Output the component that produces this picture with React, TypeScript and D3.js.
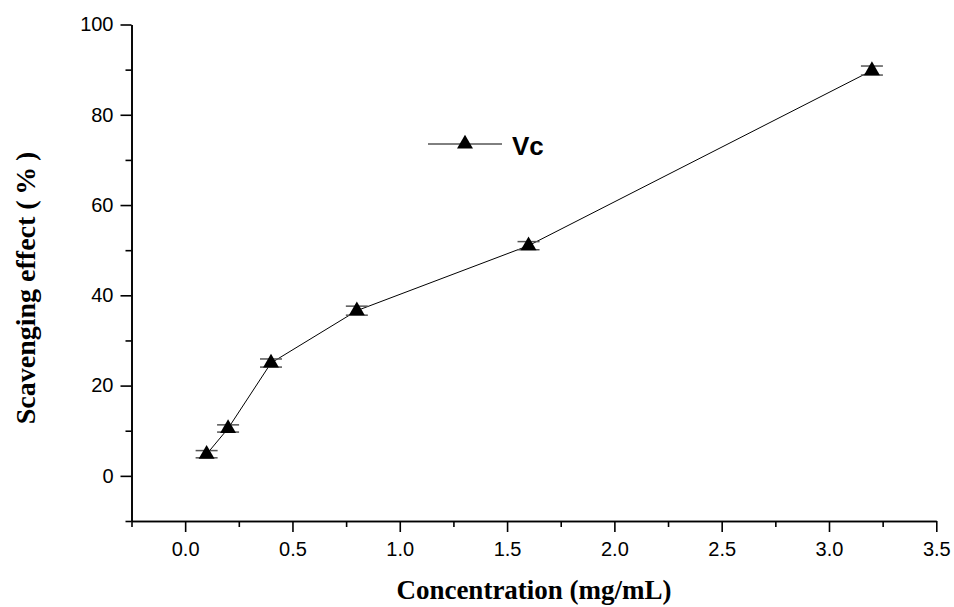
import React, { useEffect, useRef } from "react";
import * as d3 from "d3";

// concentration (mg/mL) and scavenging effect (%)
const concentrations = [0.1, 0.2, 0.4, 0.8, 1.6, 3.2];
const scavenging = [4.8, 10.5, 25.0, 36.6, 51.0, 89.8];
const errors = [0.8, 0.8, 0.9, 1.0, 0.9, 1.0];
const seriesName = "Vc";
const xTicks = [0, 0.5, 1.0, 1.5, 2.0, 2.5, 3.0, 3.5];
const yTicks = [0, 20, 40, 60, 80, 100];

const App = () => {
  const svgRef = useRef<SVGSVGElement>(null);

  useEffect(() => {
    const svg = d3.select(svgRef.current);
    svg.selectAll("*").remove();

    const x = d3.scaleLinear().domain([-0.25, 3.5]).range([131.5, 936.3]);
    const y = d3.scaleLinear().domain([-10, 100]).range([521, 24.5]);

    const g = svg.append("g");

    // minor ticks
    const xMinor = d3.range(-0.25, 3.5, 0.5);
    const yMinor = d3.range(-10, 100, 20);

    const xAxis = g.append("g").attr("transform", `translate(0,${y(-10)})`);
    xAxis.call(
      d3.axisBottom(x).tickValues(xMinor).tickSize(6).tickFormat(() => "").tickSizeOuter(0)
    );
    xAxis.append("g").call(
      d3.axisBottom(x).tickValues(xTicks).tickSize(11).tickPadding(10).tickFormat(d3.format(".1f")).tickSizeOuter(0)
    );

    const yAxis = g.append("g").attr("transform", `translate(${x(-0.25)},0)`);
    yAxis.call(
      d3.axisLeft(y).tickValues(yMinor).tickSize(6).tickFormat(() => "").tickSizeOuter(0)
    );
    yAxis.append("g").call(
      d3.axisLeft(y).tickValues(yTicks).tickSize(11).tickPadding(7).tickFormat(d3.format("d")).tickSizeOuter(0)
    );

    g.selectAll(".domain").attr("stroke", "#000").attr("stroke-width", 1.6);
    g.selectAll(".tick line").attr("stroke", "#000").attr("stroke-width", 1.6);
    g.selectAll(".tick text")
      .attr("fill", "#000")
      .style("font-family", "'Liberation Sans', Arial, sans-serif")
      .style("font-size", "20px");

    const pts = concentrations.map((c, i) => ({ c, v: scavenging[i], e: errors[i] }));

    // connecting line
    const line = d3.line<{ c: number; v: number }>()
      .x(d => x(d.c))
      .y(d => y(d.v));
    g.append("path")
      .datum(pts)
      .attr("fill", "none")
      .attr("stroke", "#000")
      .attr("stroke-width", 1)
      .attr("d", line);

    // error bars
    const eb = g.selectAll(".eb").data(pts).enter().append("g");
    eb.append("line")
      .attr("x1", d => x(d.c)).attr("x2", d => x(d.c))
      .attr("y1", d => y(d.v - d.e)).attr("y2", d => y(d.v + d.e))
      .attr("stroke", "#333");
    [1, -1].forEach(s => {
      eb.append("line")
        .attr("x1", d => x(d.c) - 11).attr("x2", d => x(d.c) + 11)
        .attr("y1", d => y(d.v + s * d.e)).attr("y2", d => y(d.v + s * d.e))
        .attr("stroke", "#555")
        .attr("stroke-width", 1.5);
    });

    // triangle markers
    const tri = d3.symbol().type(d3.symbolTriangle).size(110);
    g.selectAll(".pt")
      .data(pts)
      .enter()
      .append("path")
      .attr("transform", d => `translate(${x(d.c)},${y(d.v)})`)
      .attr("d", tri)
      .attr("fill", "#000");

    // legend
    const lg = g.append("g").attr("transform", "translate(428,144)");
    lg.append("line").attr("x1", 0).attr("x2", 74).attr("y1", 0).attr("y2", 0).attr("stroke", "#000").attr("stroke-width", 1);
    lg.append("path").attr("transform", "translate(37,0)").attr("d", tri).attr("fill", "#000");
    lg.append("text")
      .attr("x", 84)
      .attr("y", 11)
      .attr("fill", "#000")
      .style("font-family", "'Liberation Sans', Arial, sans-serif")
      .style("font-weight", "bold")
      .style("font-size", "26px")
      .text(seriesName);

    // axis titles
    g.append("text")
      .attr("x", 534)
      .attr("y", 599)
      .attr("text-anchor", "middle")
      .style("font-family", "'Liberation Serif', 'Times New Roman', serif")
      .style("font-weight", "bold")
      .style("font-size", "27px")
      .text("Concentration (mg/mL)");

    g.append("text")
      .attr("transform", "translate(35,288) rotate(-90)")
      .attr("text-anchor", "middle")
      .style("font-family", "'Liberation Serif', 'Times New Roman', serif")
      .style("font-weight", "bold")
      .style("font-size", "28px")
      .text("Scavenging effect (\u2009%\u2009)");
  }, []);

  return (
    <svg
      ref={svgRef}
      width={954}
      height={607}
      style={{ position: "absolute", left: 0, top: 0, background: "#fff" }}
    />
  );
};

export default App;
